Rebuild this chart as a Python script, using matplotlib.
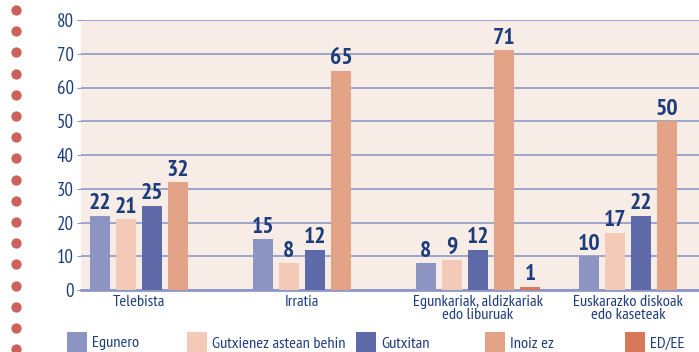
import numpy as np
import matplotlib
matplotlib.use('Agg')
import matplotlib.pyplot as plt
from matplotlib.patches import Rectangle

# data
categories = ['Telebista', 'Irratia', 'Egunkariak, aldizkariak\nedo liburuak',
              'Euskarazko diskoak\nedo kaseteak']
series = ['Egunero', 'Gutxienez astean behin', 'Gutxitan', 'Inoiz ez', 'ED/EE']
egunero = [22, 15, 8, 10]
astean_behin = [21, 8, 9, 17]
gutxitan = [25, 12, 12, 22]
inoiz_ez = [32, 65, 71, 50]
ed_ee = [None, None, 1, None]
y_ticks = [0, 10, 20, 30, 40, 50, 60, 70, 80]

colors = ['#8c94c1', '#f2cab7', '#5e6ba8', '#e3a386', '#d9775a']
navy = '#1d3c7c'
grid_col = '#8f97c6'
bg = '#f8ece6'

plt.rcParams['font.family'] = ['PT Sans Narrow', 'DejaVu Sans']

W, H = 699, 352
fig = plt.figure(figsize=(W / 100, H / 100), dpi=100)

# full-figure overlay in pixel coords for the dotted border and legend
ov = fig.add_axes([0, 0, 1, 1])
ov.set_xlim(0, W)
ov.set_ylim(H, 0)
ov.axis('off')

ax = fig.add_axes([81 / W, (H - 290) / H, 1 - 81 / W, 270 / H])
ax.set_facecolor(bg)

pitch = 26 / 163
width = 20 / 163
all_series = [egunero, astean_behin, gutxitan, inoiz_ez, ed_ee]
drawn_x = [[] for _ in categories]
for k, vals in enumerate(all_series):
    xs = [g + k * pitch for g, v in enumerate(vals) if v is not None]
    hs = [v for v in vals if v is not None]
    for g, v in enumerate(vals):
        if v is not None:
            drawn_x[g].append(g + k * pitch)
    bars = ax.bar(xs, hs, width=width, color=colors[k], zorder=3)
    ax.bar_label(bars, padding=1, color=navy, fontsize=17, fontweight='bold')

ax.set_xlim(-19 / 163, (W - 100) / 163)
ax.set_ylim(0, 80)
ax.set_yticks(y_ticks)
ax.tick_params(axis='y', length=3, color=grid_col, labelcolor=navy,
               labelsize=13.5, pad=2)
ax.yaxis.grid(True, color=grid_col, linewidth=1.2, zorder=0)
ax.set_axisbelow(True)

label_x = [np.mean(xs) for xs in drawn_x]
ax.set_xticks(label_x)
ax.set_xticklabels(categories, color=navy, fontsize=11.8, linespacing=0.9)
ax.tick_params(axis='x', length=0, pad=3.5)

for side in ['top', 'right', 'left']:
    ax.spines[side].set_visible(False)
ax.spines['bottom'].set_color(grid_col)
ax.spines['bottom'].set_linewidth(2)

# white band over the top so the "80" label is cut off
fig.add_artist(Rectangle((40 / W, 1 - 12 / H), 41 / W, 12 / H,
                         transform=fig.transFigure, color='white', zorder=5))

# dotted border on the left
dot_y = 10 + 21.2 * np.arange(17)
ov.scatter(np.full(len(dot_y), 16), dot_y, s=55, color='#cd625d', linewidths=0)

# legend
legend_x = [67, 187, 356, 485, 625]
for lx, name, c in zip(legend_x, series, colors):
    ov.add_patch(Rectangle((lx, 332), 20, 21, color=c, linewidth=0))
    ov.text(lx + 25, 343.5, name, color=navy, fontsize=11.8, va='center', ha='left')

fig.savefig('out.png', dpi=100)
